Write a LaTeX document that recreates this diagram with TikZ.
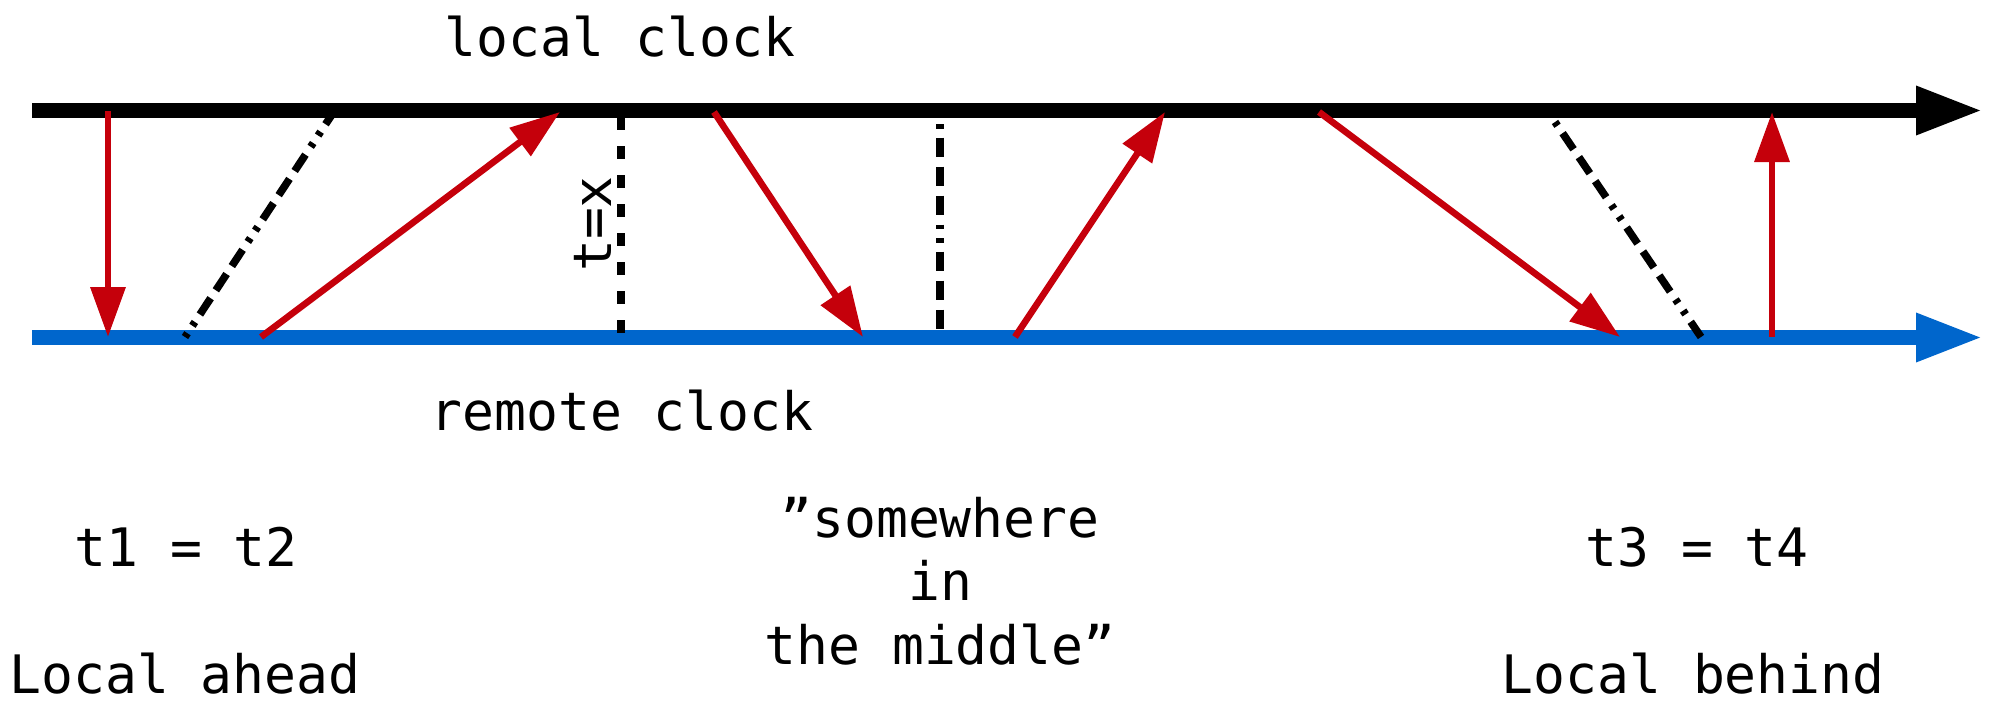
\documentclass[tikz,border=0pt]{standalone}
\usepackage{fontspec}
\setmonofont{DejaVu Sans Mono}
\usetikzlibrary{arrows.meta}
\definecolor{clkred}{RGB}{197,0,11}
\definecolor{clkblue}{RGB}{0,102,204}
\tikzset{
  clockline/.style={line width=7.5pt,-{Triangle[length=33.5pt,width=22.5pt]}},
  msg/.style={draw=clkred,line width=3.3pt,-{Triangle[length=25pt,width=17pt]},color=clkred},
  ddline/.style={line width=3.8pt,dash pattern=on 9.75pt off 4.75pt on 9.75pt off 4.75pt on 9.75pt off 4.75pt on 2.25pt off 4.5pt on 2.25pt off 4.5pt},
  dline/.style={line width=3.6pt,dash pattern=on 6.5pt off 8pt},
  lbl/.style={font=\ttfamily\fontsize{26.5}{31.75}\selectfont,inner sep=0pt},
}
\begin{document}
\begin{tikzpicture}[x=0.5pt,y=-0.5pt]
\useasboundingbox (0,0) rectangle (1995,701);
% clock lines
\coordinate (Ls) at (32,110.5);
\coordinate (Le) at (1983,110.5);
\coordinate (Rs) at (32,337.5);
\coordinate (Re) at (1983,337.5);
\draw[clockline,black] (Ls) -- (Le);
\draw[clockline,clkblue] (Rs) -- (Re);
% endpoints
\coordinate (a1) at (108,111);  \coordinate (b1) at (108,337);
\coordinate (a2) at (261,337);  \coordinate (b2) at (560,112);
\coordinate (a3) at (714,112);  \coordinate (b3) at (863,337);
\coordinate (a4) at (1015,337); \coordinate (b4) at (1165,112);
\coordinate (a5) at (1319,112); \coordinate (b5) at (1620,337);
\coordinate (a6) at (1772,337); \coordinate (b6) at (1772,112);
\coordinate (d1s) at (185,337); \coordinate (d1e) at (333,113);
\coordinate (d2s) at (621,117); \coordinate (d2e) at (621,337);
\coordinate (d3s) at (940,124); \coordinate (d3e) at (940,337);
\coordinate (d4s) at (1555,122); \coordinate (d4e) at (1701,337);
% dashed lines
\draw[ddline,dash phase=43.5pt] (d1s) -- (d1e);
\draw[dline] (d2s) -- (d2e);
\draw[ddline,dash phase=50.25pt] (d3s) -- (d3e);
\draw[ddline,dash phase=50.25pt] (d4s) -- (d4e);
% messages
\draw[msg] (a1) -- (b1);
\draw[msg] (a2) -- (b2);
\draw[msg] (a3) -- (b3);
\draw[msg] (a4) -- (b4);
\draw[msg] (a5) -- (b5);
\draw[msg] (a6) -- (b6);
% labels
\node[lbl,anchor=base] (local) at (620,57) {local clock};
\node[lbl,anchor=base] (remote) at (622,430) {remote clock};
\node[lbl,rotate=90] (tx) at (593,224) {t=x};
\node[lbl,anchor=base] (t12) at (186,566) {t1 = t2};
\node[lbl,anchor=base,align=center] (mid) at (940,664) {”somewhere\\in\\the middle”};
\node[lbl,anchor=base] (t34) at (1697,566) {t3 = t4};
\node[lbl,anchor=base] (ahead) at (185,693) {Local ahead};
\node[lbl,anchor=base] (behind) at (1693,693) {Local behind};
\end{tikzpicture}
\end{document}
